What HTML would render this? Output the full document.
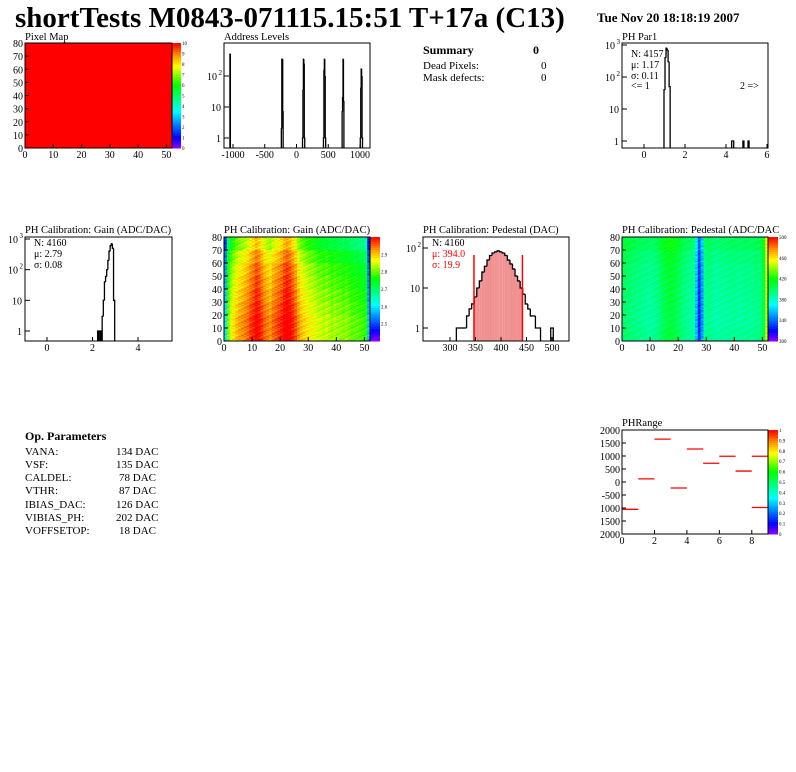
<!DOCTYPE html>
<html><head><meta charset="utf-8">
<style>
html,body{margin:0;padding:0;background:#fff;}
svg{display:block;font-family:"Liberation Serif",serif;}
</style></head>
<body>
<svg id="page" width="796" height="772" viewBox="0 0 796 772" xmlns="http://www.w3.org/2000/svg">
<rect x="0" y="0" width="796" height="772" fill="#fff"/>
<text x="15" y="27" font-size="29" font-weight="bold">shortTests M0843-071115.15:51 T+17a (C13)</text>
<text x="597" y="22" font-size="13" font-weight="bold">Tue Nov 20 18:18:19 2007</text>
<g font-size="11">
<text x="423" y="54" font-weight="bold" font-size="12">Summary</text><text x="533" y="54" font-weight="bold" font-size="12">0</text>
<text x="423" y="69">Dead Pixels:</text><text x="541" y="69">0</text>
<text x="423" y="81">Mask defects:</text><text x="541" y="81">0</text>
</g>
<g font-size="11">
<text x="25" y="440" font-weight="bold" font-size="12">Op. Parameters</text>
<text x="25" y="455">VANA:</text><text x="116" y="455">134 DAC</text>
<text x="25" y="468">VSF:</text><text x="116" y="468">135 DAC</text>
<text x="25" y="481">CALDEL:</text><text x="119" y="481">78 DAC</text>
<text x="25" y="494">VTHR:</text><text x="119" y="494">87 DAC</text>
<text x="25" y="508">IBIAS_DAC:</text><text x="116" y="508">126 DAC</text>
<text x="25" y="521">VIBIAS_PH:</text><text x="116" y="521">202 DAC</text>
<text x="25" y="534">VOFFSETOP:</text><text x="119" y="534">18 DAC</text>
</g>
</svg>
<script>
// ---- data ----
const addrX=[-1045,-235,-228,-221,-214,98,105,112,119,126,428,435,442,449,456,722,729,736,743,1008,1015,1022,1029,1036];
const addrN=[500,2,350,350,7,1,35,350,250,1,1,150,350,100,1,7,20,350,15,1,40,170,100,1];
const par1X=[1.0,1.05,1.1,1.15,1.2,1.25,4.3,4.35,4.85,5.1];
const par1N=[40,400,800,700,300,50,1,1,1,1];
const gainX=[2.25,2.35,2.45,2.5,2.55,2.6,2.65,2.7,2.75,2.8,2.85,2.9,2.95];
const gainN=[1,1,3,10,40,60,100,200,400,600,700,500,10];
const pedX=[315,320,325,330,335,340,345,350,355,360,365,370,375,380,385,390,395,400,405,410,415,420,425,430,435,440,445,450,455,460,465,470,475,500];
const pedN=[1,1,1,1,2,3,4,6,10,15,25,35,50,65,75,80,85,80,75,65,50,40,30,20,15,10,7,4,3,2,2,1,1,1];
const gainCol=[2.6,2.78,2.82,2.84,2.86,2.87,2.88,2.89,2.9,2.92,2.93,2.95,2.94,2.92,2.9,2.89,2.88,2.9,2.91,2.92,2.93,2.95,2.96,2.95,2.93,2.91,2.88,2.86,2.85,2.84,2.83,2.83,2.82,2.81,2.81,2.8,2.81,2.8,2.79,2.8,2.79,2.79,2.78,2.79,2.78,2.77,2.77,2.77,2.76,2.76,2.75,2.58];
const gainRow=[0.02,0.02,0.01,0.0,-0.01,-0.02,-0.04,-0.07];
const pedCol=[402,402,400,398,398,396,396,394,394,392,392,394,396,400,406,408,410,412,410,406,404,398,396,394,392,392,360,330,352,392,396,394,392,390,390,392,392,392,393,394,394,392,392,394,394,393,394,396,396,398,410,450];
const pedRow=[-2,-4,-3,-2,-1,0,3,8];
const rangeX=[0,1,2,3,4,5,6,7,8,8];
const rangeY=[-1050,120,1650,-230,1270,720,990,420,990,-980];

const NS='http://www.w3.org/2000/svg';
const svg=document.getElementById('page');
function mk(tag,at,parent){const e=document.createElementNS(NS,tag);for(const k in at)e.setAttribute(k,at[k]);(parent||svg).appendChild(e);return e;}
function txt(s,x,y,at,parent){const e=mk('text',Object.assign({x:x,y:y,'font-size':10},at||{}),parent);e.textContent=s;return e;}
function pal(t){t=Math.max(0,Math.min(1,t));const st=[[0,275],[0.1,240],[0.35,180],[0.6,120],[0.78,60],[0.9,30],[1,0]];
 for(let i=1;i<st.length;i++){if(t<=st[i][0]){const f=(t-st[i-1][0])/(st[i][0]-st[i-1][0]);return 'hsl('+(st[i-1][1]+f*(st[i][1]-st[i-1][1])).toFixed(0)+',100%,50%)';}}return 'hsl(0,100%,50%)';}
function linAx(d0,d1,p0,p1){return v=>p0+(v-d0)/(d1-d0)*(p1-p0);}
function logAx(l0,l1,p0,p1){return v=>p0+(Math.log10(v)-l0)/(l1-l0)*(p1-p0);}

function frame(g,x0,y0,x1,y1){const r=mk('rect',{x:x0,y:y0,width:x1-x0,height:y1-y0,fill:'none',stroke:'#000','stroke-width':1},g);}
function xTicks(g,vals,labels,sx,y1){vals.forEach((v,i)=>{mk('line',{x1:sx(v),y1:y1,x2:sx(v),y2:y1-4,stroke:'#000'},g);const t=txt(labels[i],sx(v),y1+10,{'text-anchor':'middle'},g);});}
function yTicks(g,vals,labels,sy,x0){vals.forEach((v,i)=>{mk('line',{x1:x0,y1:sy(v),x2:x0+4,y2:sy(v),stroke:'#000'},g);const t=txt(labels[i],x0-2,sy(v)+4,{'text-anchor':'end'},g);});}
function logLabels(g,decs,sy,x0){decs.forEach(d=>{const yy=sy(Math.pow(10,d));mk('line',{x1:x0,y1:yy,x2:x0+5,y2:yy,stroke:'#000'},g);
 const e=txt(d===0?'1':'10',x0-3-(d>=2?4:0),yy+4,{'text-anchor':'end'},g);
 if(d>=2){const s=txt(String(d),x0-2,yy-1,{'text-anchor':'end','font-size':7},g);}});}
function histBars(g,xs,ns,w,sx,sy,ybot,name){const ytop=v=>Math.min(ybot,Math.max(0,sy(v)));
 xs.forEach((x,i)=>{const L=sx(x-w/2),R=sx(x+w/2);const prevAdj=i>0&&Math.abs(xs[i-1]+w-x)<w*0.01;const nextAdj=i<xs.length-1&&Math.abs(xs[i+1]-w-x)<w*0.01;
  const p0=prevAdj?ytop(ns[i-1]):ybot;let d='M'+L+','+p0+' L'+L+','+ytop(ns[i])+' L'+R+','+ytop(ns[i]);if(!nextAdj)d+=' L'+R+','+ybot;
  const p=mk('path',{d:d,fill:'none',stroke:'#000','stroke-width':1.3},g);});}
function palette(g,x0,y0,x1,y1,labels){const n=50;for(let i=0;i<n;i++){mk('rect',{x:x0,y:y1-(i+1)*(y1-y0)/n,width:x1-x0,height:(y1-y0)/n+0.5,fill:pal((i+0.5)/n)},g);}
 labels.forEach((l,i)=>{const yy=y1-(i/(labels.length-1))*(y1-y0);const t=txt(l,x1+1,yy+2,{'font-size':5},g);});}
function title(g,s,x,y){const t=txt(s,x,y,{'font-size':10.5},g);}
function grp(name){const g=mk('g',{});return g;}
const mapXT=[0,10,20,30,40,50],mapYT=[0,10,20,30,40,50,60,70,80];

// Pixel map
{const g=grp('pixel-map-panel');const sx=linAx(0,52,25,172),sy=linAx(0,80,148,43);
 const r=mk('rect',{x:25,y:43,width:147,height:105,fill:'#ff0000'},g);
 palette(g,172,43,181,148,['0','1','2','3','4','5','6','7','8','9','10']);frame(g,25,43,172,148);
 xTicks(g,mapXT,mapXT.map(String),sx,148);yTicks(g,mapYT,mapYT.map(String),sy,25);title(g,'Pixel Map',25,40);}
// Address levels
{const g=grp('address-levels-panel');const sx=linAx(-1000,1000,233,360),sy=logAx(0,2,138,76);
 histBars(g,addrX,addrN,7,sx,sy,148,'address-bar');frame(g,224,43,370,148);
 xTicks(g,[-1000,-500,0,500,1000],['-1000','-500','0','500','1000'],sx,148);logLabels(g,[0,1,2],sy,224);title(g,'Address Levels',224,40);}
// PH Par1
{const g=grp('ph-par1-panel');const sx=linAx(0,6,644,767),sy=logAx(0,3,141,45);
 histBars(g,par1X,par1N,0.05,sx,sy,148,'par1-bar');frame(g,622,43,768,148);
 xTicks(g,[0,2,4,6],['0','2','4','6'],sx,148);logLabels(g,[0,1,2,3],sy,622);title(g,'PH Par1',622,40);
 [['N: 4157',57],['μ: 1.17',68],['σ: 0.11',79],['<= 1',89]].forEach(a=>{const t=txt(a[0],631,a[1],{},g);});
 const t=txt('2 =>',740,89,{},g);}
// Gain hist
{const g=grp('gain-hist-panel');const sx=linAx(0,4,47,138),sy=logAx(0,3,331,239);
 histBars(g,gainX,gainN,0.05,sx,sy,341,'gain-bar');frame(g,25,237,172,341);
 xTicks(g,[0,2,4],['0','2','4'],sx,341);logLabels(g,[0,1,2,3],sy,25);title(g,'PH Calibration: Gain (ADC/DAC)',25,233);
 [['N: 4160',246],['μ: 2.79',257],['σ: 0.08',268]].forEach(a=>{const t=txt(a[0],34,a[1],{},g);});}
// maps
function heat(name,x0,col,row,vmin,vmax,labels,ttl){const g=grp(name);const sx=linAx(0,52,x0,x0+146),sy=linAx(0,80,341,237);
 for(let r=0;r<80;r++)for(let c=0;c<52;c++){const v=col[c]+row[Math.floor(r/10)]+(((c*7+r*13)%5)-2)*(vmax-vmin)*0.02;
  mk('rect',{x:sx(c),y:sy(r+1),width:sx(1)-sx(0)+0.3,height:sy(0)-sy(1)+0.3,fill:pal((v-vmin)/(vmax-vmin))},g);}
 palette(g,x0+146,237,x0+156,341,labels);frame(g,x0,237,x0+146,341);
 xTicks(g,mapXT,mapXT.map(String),sx,341);yTicks(g,mapYT,mapYT.map(String),sy,x0);title(g,ttl,x0,233);}
heat('gain-map-panel',224,gainCol,gainRow,2.45,2.96,['','2.5','2.6','2.7','2.8','2.9',''],'PH Calibration: Gain (ADC/DAC)');
heat('pedestal-map-panel',622,pedCol,pedRow,300,500,['300','340','380','420','460','500'],'PH Calibration: Pedestal (ADC/DAC');
// Pedestal hist
{const g=grp('pedestal-hist-panel');const sx=linAx(300,500,450,552),sy=logAx(0,2,328,248);
 pedX.forEach((x,i)=>{if(x>=350&&x<=440){const r=mk('rect',{x:sx(x-2.5),y:sy(pedN[i]),width:sx(x+2.5)-sx(x-2.5),height:341-sy(pedN[i]),fill:'#f09090'},g);}});
 histBars(g,pedX,pedN,5,sx,sy,341,'pedestal-bar');
 [347,442].forEach(v=>{const l=mk('line',{x1:sx(v),y1:255,x2:sx(v),y2:341,stroke:'#f00','stroke-width':1.5},g);});
 frame(g,423,237,569,341);
 xTicks(g,[300,350,400,450,500],['300','350','400','450','500'],sx,341);logLabels(g,[0,1,2],sy,423);title(g,'PH Calibration: Pedestal (DAC)',423,233);
 const a=txt('N: 4160',432,246,{},g);
 const b=txt('μ: 394.0',432,257,{fill:'#f00'},g);
 const c=txt('σ: 19.9',432,268,{fill:'#f00'},g);}
// PHRange
{const g=grp('phrange-panel');const sx=linAx(0,9,622,768),sy=linAx(-2000,2000,534,430);
 palette(g,768,430,778,534,['0','0.1','0.2','0.3','0.4','0.5','0.6','0.7','0.8','0.9','1']);
 rangeX.forEach((x,i)=>{const l=mk('line',{x1:sx(x),y1:sy(rangeY[i]),x2:sx(x+1),y2:sy(rangeY[i]),stroke:'#f00','stroke-width':1.3},g);});
 frame(g,622,430,768,534);
 xTicks(g,[0,2,4,6,8],['0','2','4','6','8'],sx,534);
 const yv=[2000,1500,1000,500,0,-500,-1000,-1500,-2000];yTicks(g,yv,yv.map(v=>(v<=-1000?String(-v):String(v))),sy,622);
 title(g,'PHRange',622,426);}
</script>
</body></html>
